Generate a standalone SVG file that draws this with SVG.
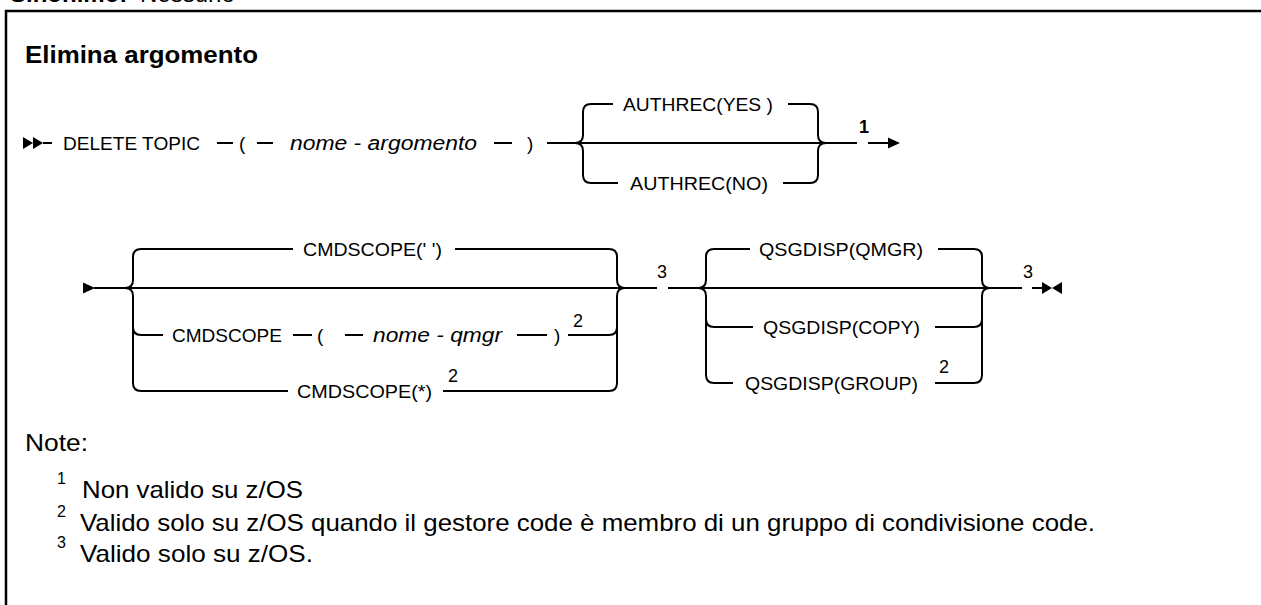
<svg xmlns="http://www.w3.org/2000/svg" width="1261" height="605" viewBox="0 0 1261 605">
<defs>
<style>
text{font-family:'Liberation Sans',Arial,sans-serif;fill:#000;}
.kw{font-size:19px;}
.var{font-size:20px;font-style:italic;}
.ref{font-size:18px;}
.refb{font-size:18px;font-weight:bold;}
.title{font-size:24px;font-weight:bold;}
.note{font-size:24px;}
.sup{font-size:16px;}
.ln{fill:none;stroke:#000;stroke-width:2;}
.frame{fill:none;stroke:#000;stroke-width:2.5;}
.ah{fill:#000;stroke:none;}
</style>
</defs>
<rect width="1261" height="605" fill="#fff"/>
<text x="10" y="1.5" class="title">Sinonimo:</text>
<text x="140" y="1.5" class="note">Nessuno</text>
<path class="frame" d="M6,615 L6,11 L1275,11"/>
<g id="title"><text x="25" y="63" class="title" textLength="233" lengthAdjust="spacingAndGlyphs">Elimina argomento</text></g>

<g id="connectors">
<!-- row 1 -->
<polygon class="ah" points="23,137 33,143 23,149"/>
<polygon class="ah" points="33,137 43,143 33,149"/>
<path class="ln" d="M43,143 L52,143 M217,143 L233,143 M257,143 L273,143 M494,143 L512,143 M547,143 L857,143 M868,143 L889,143"/>
<polygon class="ah" points="888,137.5 900,143 888,148.5"/>
<path class="ln" d="M575,143 Q583,143 583,135 L583,112 Q583,104 591,104 L613,104"/>
<path class="ln" d="M575,143 Q583,143 583,151 L583,175 Q583,183 591,183 L618,183"/>
<path class="ln" d="M788,104 L810,104 Q818,104 818,112 L818,135 Q818,143 826,143"/>
<path class="ln" d="M783,183 L810,183 Q818,183 818,175 L818,151 Q818,143 826,143"/>
<!-- row 2 -->
<polygon class="ah" points="83,282.5 95,288 83,293.5"/>
<path class="ln" d="M94,288 L657,288 M668,288 L1022,288 M1032,288 L1043,288"/>
<polygon class="ah" points="1042,282 1052,288 1042,294"/>
<polygon class="ah" points="1062,282 1052,288 1062,294"/>
<path class="ln" d="M125,288 Q133,288 133,280 L133,257 Q133,249 141,249 L293,249"/>
<path class="ln" d="M125,288 Q133,288 133,296 L133,383 Q133,391 141,391 L288,391"/>
<path class="ln" d="M133,327 Q133,335 141,335 L163,335"/>
<path class="ln" d="M293,335 L312,335 M345,335 L363,335 M517,335 L547,335"/>
<path class="ln" d="M455,249 L609,249 Q617,249 617,257 L617,280 Q617,288 625,288"/>
<path class="ln" d="M443,391 L609,391 Q617,391 617,383 L617,296 Q617,288 625,288"/>
<path class="ln" d="M568,335 L609,335 Q617,335 617,327"/>
<path class="ln" d="M698,288 Q706,288 706,280 L706,257 Q706,249 714,249 L750,249"/>
<path class="ln" d="M698,288 Q706,288 706,296 L706,375 Q706,383 714,383 L733,383"/>
<path class="ln" d="M706,319 Q706,327 714,327 L753,327"/>
<path class="ln" d="M938,249 L974,249 Q982,249 982,257 L982,280 Q982,288 990,288"/>
<path class="ln" d="M935,383 L974,383 Q982,383 982,375 L982,296 Q982,288 990,288"/>
<path class="ln" d="M935,327 L974,327 Q982,327 982,319"/>
</g>

<g id="n-delete-topic"><text x="63" y="150" class="kw" textLength="137" lengthAdjust="spacingAndGlyphs">DELETE TOPIC</text></g>
<g id="n-lparen1"><text x="239" y="150" class="kw">(</text></g>
<g id="n-nome-argomento"><text x="290" y="150" class="var" textLength="187" lengthAdjust="spacingAndGlyphs">nome - argomento</text></g>
<g id="n-rparen1"><text x="527" y="150" class="kw">)</text></g>
<g id="n-authrec-yes"><text x="623" y="111" class="kw" textLength="150" lengthAdjust="spacingAndGlyphs">AUTHREC(YES )</text></g>
<g id="n-authrec-no"><text x="630" y="190" class="kw" textLength="138" lengthAdjust="spacingAndGlyphs">AUTHREC(NO)</text></g>
<g id="n-ref1"><text x="859" y="133" class="refb">1</text></g>

<g id="n-cmdscope-blank"><text x="303" y="256" class="kw" textLength="139" lengthAdjust="spacingAndGlyphs">CMDSCOPE(' ')</text></g>
<g id="n-cmdscope"><text x="172" y="342" class="kw" textLength="110" lengthAdjust="spacingAndGlyphs">CMDSCOPE</text></g>
<g id="n-lparen2"><text x="317" y="342" class="kw">(</text></g>
<g id="n-nome-qmgr"><text x="373" y="342" class="var" textLength="129" lengthAdjust="spacingAndGlyphs">nome - qmgr</text></g>
<g id="n-rparen2"><text x="554" y="342" class="kw">)</text></g>
<g id="n-ref2a"><text x="573" y="327" class="ref">2</text></g>
<g id="n-cmdscope-star"><text x="297" y="398" class="kw" textLength="135" lengthAdjust="spacingAndGlyphs">CMDSCOPE(*)</text></g>
<g id="n-ref2b"><text x="448" y="382" class="ref">2</text></g>
<g id="n-ref3a"><text x="657" y="278" class="ref">3</text></g>
<g id="n-qsgdisp-qmgr"><text x="759" y="256" class="kw" textLength="164" lengthAdjust="spacingAndGlyphs">QSGDISP(QMGR)</text></g>
<g id="n-qsgdisp-copy"><text x="763" y="334" class="kw" textLength="157" lengthAdjust="spacingAndGlyphs">QSGDISP(COPY)</text></g>
<g id="n-qsgdisp-group"><text x="745" y="390" class="kw" textLength="173" lengthAdjust="spacingAndGlyphs">QSGDISP(GROUP)</text></g>
<g id="n-ref2c"><text x="939" y="373" class="ref">2</text></g>
<g id="n-ref3b"><text x="1023" y="278" class="ref">3</text></g>

<g id="notes">
<text x="25" y="451" class="note" textLength="63" lengthAdjust="spacingAndGlyphs">Note:</text>
<text x="57" y="484" class="sup">1</text>
<text x="82" y="498" class="note" textLength="221" lengthAdjust="spacingAndGlyphs">Non valido su z/OS</text>
<text x="57" y="517" class="sup">2</text>
<text x="80" y="531" class="note" textLength="1015" lengthAdjust="spacingAndGlyphs">Valido solo su z/OS quando il gestore code è membro di un gruppo di condivisione code.</text>
<text x="57" y="548" class="sup">3</text>
<text x="80" y="562" class="note" textLength="233" lengthAdjust="spacingAndGlyphs">Valido solo su z/OS.</text>
</g>
</svg>
